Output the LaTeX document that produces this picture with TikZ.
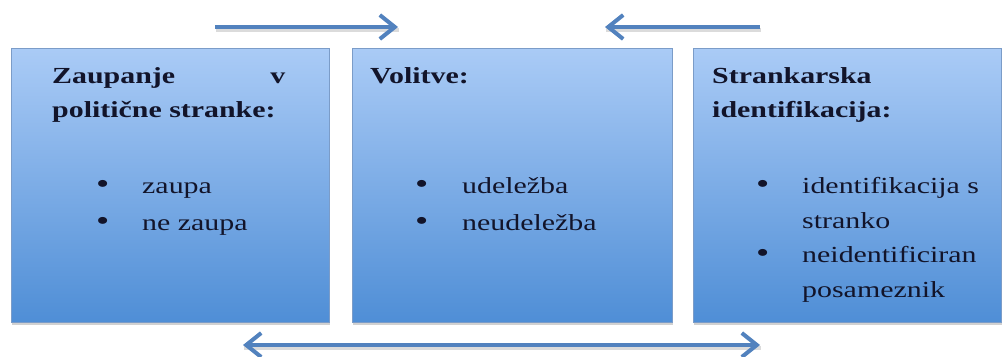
\documentclass[tikz,border=0pt]{standalone}
\usepackage{fontspec}
\setmainfont[FakeStretch=1.3]{Liberation Serif}
\usetikzlibrary{arrows.meta,shadows}
\definecolor{boxtop}{HTML}{AACBF6}
\definecolor{boxbot}{HTML}{4F8ED6}
\definecolor{boxline}{HTML}{7B9CC8}
\definecolor{arrowblue}{HTML}{5282BE}
\definecolor{txt}{HTML}{12142A}
\begin{document}
\begin{tikzpicture}[x=1pt,y=-1pt,
  box/.style={draw=boxline, line width=0.8pt, top color=boxtop, bottom color=boxbot,
    minimum width=318pt, minimum height=274pt, anchor=north west, inner sep=0pt,
    drop shadow={shadow xshift=0.5pt, shadow yshift=-3pt, opacity=0.3, fill=black!60}},
  title/.style={anchor=base west, inner sep=0pt, text=txt, font=\fontsize{23}{28}\selectfont\bfseries},
  item/.style={anchor=base west, inner sep=0pt, text=txt, font=\fontsize{23}{28}\selectfont},
  dot/.style={anchor=base west, inner sep=0pt, text=txt, font=\fontsize{29}{30}\selectfont},
  arr/.style={draw=arrowblue, line width=4pt, -{Straight Barb[length=15pt,width=24pt]}},
  arrboth/.style={draw=arrowblue, line width=4pt, {Straight Barb[length=15pt,width=24pt]}-{Straight Barb[length=15pt,width=24pt]}},
  arrsh/.style={draw=black!40, opacity=0.35, line width=4pt},
]
\useasboundingbox (0,0) rectangle (1003,356);

% boxes
\node[box] (b1) at (11,48) {};
\node[box, minimum width=320pt] (b2) at (352,48) {};
\node[box, minimum width=308pt] (b3) at (693,48) {};

% titles
\node[title] (t1a) at (52,83) {\makebox[233pt][l]{Zaupanje\hfill v}};
\node[title] (t1b) at (52,117) {politične stranke:};
\node[title] (t2a) at (370,83) {Volitve:};
\node[title] (t3a) at (712,83) {Strankarska};
\node[title] (t3b) at (712,117) {identifikacija:};

% bullets box 1
\node[dot] (p1a) at (96,193) {•};
\node[item] (i1a) at (142,193) {zaupa};
\node[dot] (p1b) at (96,230) {•};
\node[item] (i1b) at (142,230) {ne zaupa};

% bullets box 2
\node[dot] (p2a) at (415,193) {•};
\node[item] (i2a) at (462,193) {udeležba};
\node[dot] (p2b) at (415,230) {•};
\node[item] (i2b) at (462,230) {neudeležba};

% bullets box 3
\node[dot] (p3a) at (756,193) {•};
\node[item] (i3a) at (802,193) {identifikacija s};
\node[item] (i3b) at (802,228) {stranko};
\node[dot] (p3b) at (756,262) {•};
\node[item] (i3c) at (802,262) {neidentificiran};
\node[item] (i3d) at (802,297) {posameznik};

% arrows
\coordinate (a1s) at (215,27);
\coordinate (a1e) at (398,27);
\coordinate (a2s) at (760,27);
\coordinate (a2e) at (605,27);
\coordinate (a3s) at (243,345);
\coordinate (a3e) at (760,345);

\draw[arrsh] ([shift={(1,2.5)}]a1s) -- ([shift={(1,2.5)}]a1e);
\draw[arrsh] ([shift={(1,2.5)}]a2s) -- ([shift={(1,2.5)}]a2e);
\draw[arrsh] ([shift={(1,2.5)}]a3s) -- ([shift={(1,2.5)}]a3e);

\draw[arr] (a1s) -- (a1e);
\draw[arr] (a2s) -- (a2e);
\draw[arrboth] (a3s) -- (a3e);
\end{tikzpicture}
\end{document}
